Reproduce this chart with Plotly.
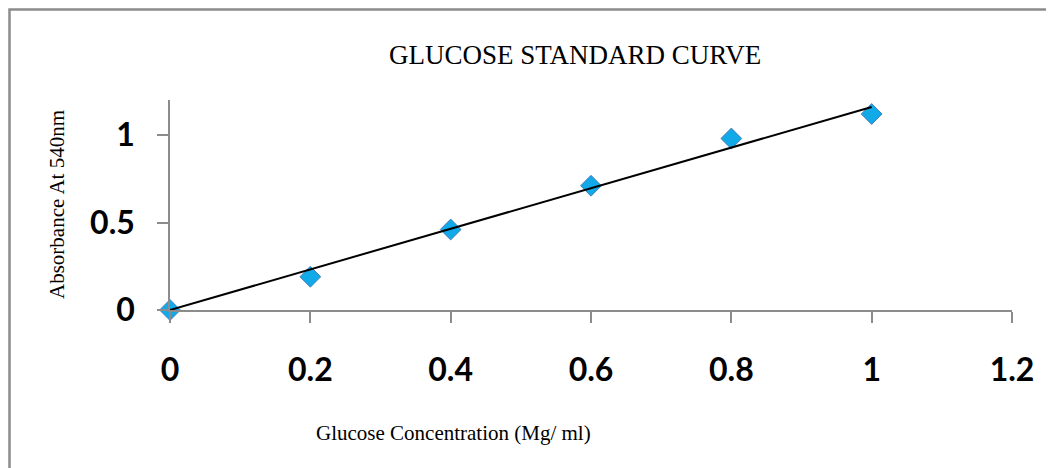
import numpy as np
import plotly.graph_objects as go

concentration = [0, 0.2, 0.4, 0.6, 0.8, 1.0]
absorbance = [0, 0.19, 0.46, 0.71, 0.98, 1.12]
x_ticks = [0, 0.2, 0.4, 0.6, 0.8, 1, 1.2]
y_ticks = [0, 0.5, 1]

title_text = "GLUCOSE STANDARD CURVE"
x_title = "Glucose Concentration (Mg/ ml)"
y_title = "Absorbance At 540nm"

# linear trendline through origin (least squares)
xa = np.array(concentration)
ya = np.array(absorbance)
slope = float((xa * ya).sum() / (xa * xa).sum())
trend_x = [min(concentration), max(concentration)]
trend_y = [slope * v for v in trend_x]

OFF = 8  # page body margin
W, H = 1054, 468
# plot area in page pixels: x 170..1012, y 100..310
ml = 170 - OFF
mt = 100 - OFF
mr = W - (1012 - OFF)
mb = H - (310 - OFF)
pw, ph = W - ml - mr, H - mt - mb

def px_to_paper_x(px):
    return (px - OFF - ml) / pw

def py_to_paper_y(py):
    return (H - mb - (py - OFF)) / ph

fig = go.Figure()
fig.add_trace(go.Scatter(
    x=concentration, y=absorbance, mode="markers",
    marker=dict(symbol="diamond", size=16, color="#12A9E8",
                line=dict(color="#4A7EBB", width=1)),
    cliponaxis=False, showlegend=False,
))
fig.add_trace(go.Scatter(
    x=trend_x, y=trend_y, mode="lines",
    line=dict(color="black", width=2),
    cliponaxis=False, showlegend=False,
))

tick_font = dict(family="Lato", size=32, color="black", weight="bold")
serif = "Liberation Serif"

fig.update_layout(
    width=W, height=H,
    margin=dict(l=ml, r=mr, t=mt, b=mb),
    paper_bgcolor="white", plot_bgcolor="white",
    xaxis=dict(range=[0, 1.2], tickvals=x_ticks, ticktext=[f"{v:g}" for v in x_ticks],
               showgrid=False, zeroline=False, showline=True, linecolor="#8C8C8C",
               linewidth=1.5, ticks="outside", ticklen=11, tickcolor="#8C8C8C",
               tickwidth=1.5, tickfont=tick_font, ticklabelstandoff=20, fixedrange=True),
    yaxis=dict(range=[0, 1.2], tickvals=y_ticks, ticktext=[f"{v:g}" for v in y_ticks],
               showgrid=False, zeroline=False, showline=True, linecolor="#8C8C8C",
               linewidth=1.5, ticks="outside", ticklen=11, tickcolor="#8C8C8C",
               tickwidth=1.5, tickfont=tick_font, ticklabelstandoff=16, fixedrange=True),
    annotations=[
        dict(text=title_text, x=px_to_paper_x(575), y=py_to_paper_y(55), xref="paper", yref="paper",
             showarrow=False, font=dict(family=serif, size=27, color="black"),
             xanchor="center", yanchor="middle"),
        dict(text=x_title, x=px_to_paper_x(453), y=py_to_paper_y(433), xref="paper", yref="paper",
             showarrow=False, font=dict(family=serif, size=21, color="black"),
             xanchor="center", yanchor="middle"),
        dict(text=y_title, x=px_to_paper_x(57), y=py_to_paper_y(205), xref="paper", yref="paper",
             showarrow=False, textangle=-90, font=dict(family=serif, size=21, color="black"),
             xanchor="center", yanchor="middle"),
    ],
    shapes=[
        dict(type="path", xref="paper", yref="paper",
             path=(f"M {px_to_paper_x(9.5)},{py_to_paper_y(490)} "
                   f"L {px_to_paper_x(9.5)},{py_to_paper_y(9.5)} "
                   f"L {px_to_paper_x(1080)},{py_to_paper_y(9.5)}"),
             line=dict(color="#8C8C8C", width=2.5)),
    ],
)

fig.write_html("out.html")
